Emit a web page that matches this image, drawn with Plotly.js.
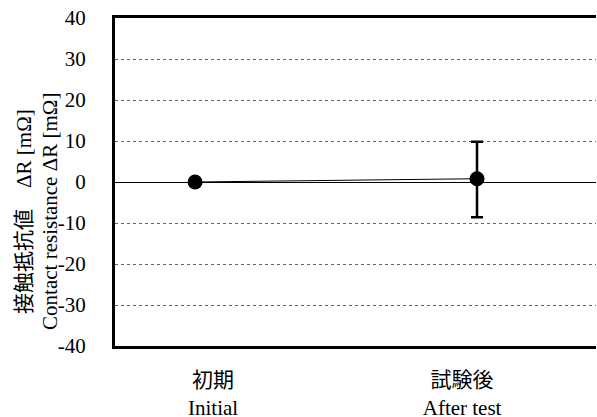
<!DOCTYPE html>
<html>
<head>
<meta charset="utf-8">
<script src="https://cdn.plot.ly/plotly-3.0.1.min.js"></script>
<style>html,body{margin:0;padding:0;background:#fff;}#chart{width:597px;height:417px;}</style>
</head>
<body>
<div id="chart"></div>
<script>
// Data
const categories = ["初期<br>Initial", "試験後<br>After test"];
const categoryIndex = [1, 2];
const deltaR = [0, 0.8];
const errPlus = [0, 9.0];
const errMinus = [0, 9.4];
const yTicks = [-40, -30, -20, -10, 0, 10, 20, 30, 40];

const FONT = "Liberation Serif, Noto Sans CJK JP, serif";

const trace = {
  x: categoryIndex,
  y: deltaR,
  type: 'scatter',
  mode: 'lines+markers',
  line: {color: '#000', width: 1},
  marker: {color: '#000', size: 15},
  error_y: {type: 'data', symmetric: false, array: errPlus, arrayminus: errMinus,
            color: '#000', thickness: 2.5, width: 6},
  showlegend: false,
  hoverinfo: 'skip'
};

const layout = {
  width: 597, height: 417,
  margin: {l: 115, r: 1, t: 18, b: 71},
  paper_bgcolor: '#fff', plot_bgcolor: '#fff',
  font: {family: FONT, size: 21, color: '#000'},
  xaxis: {
    range: [0.716, 2.422],
    tickvals: [1.064, 1.947],
    ticktext: categories,
    showgrid: false, zeroline: false,
    showline: true, linecolor: '#000', linewidth: 3, mirror: true,
    ticks: '', ticklabelstandoff: 13,
    tickfont: {family: FONT, size: 21, color: '#000'}
  },
  yaxis: {
    range: [-40, 40],
    tickvals: yTicks,
    ticktext: yTicks.map(String),
    showgrid: true, gridcolor: '#666', griddash: 'dot', gridwidth: 1,
    zeroline: true, zerolinecolor: '#000', zerolinewidth: 1,
    showline: true, linecolor: '#000', linewidth: 3,
    ticks: '', ticklabelstandoff: 22,
    tickfont: {family: FONT, size: 21, color: '#000'}
  },
  annotations: [
    {text: '接触抵抗値　ΔR [mΩ]', xref: 'paper', yref: 'paper', x: -0.189, y: 0.409,
     xanchor: 'center', yanchor: 'middle', textangle: -90, showarrow: false,
     font: {family: FONT, size: 21, color: '#000'}},
    {text: 'Contact resistance ΔR [mΩ]', xref: 'paper', yref: 'paper', x: -0.135, y: 0.409,
     xanchor: 'center', yanchor: 'middle', textangle: -90, showarrow: false,
     font: {family: FONT, size: 21, color: '#000'}}
  ]
};

Plotly.newPlot('chart', [trace], layout, {displayModeBar: false, staticPlot: true});
</script>
</body>
</html>
